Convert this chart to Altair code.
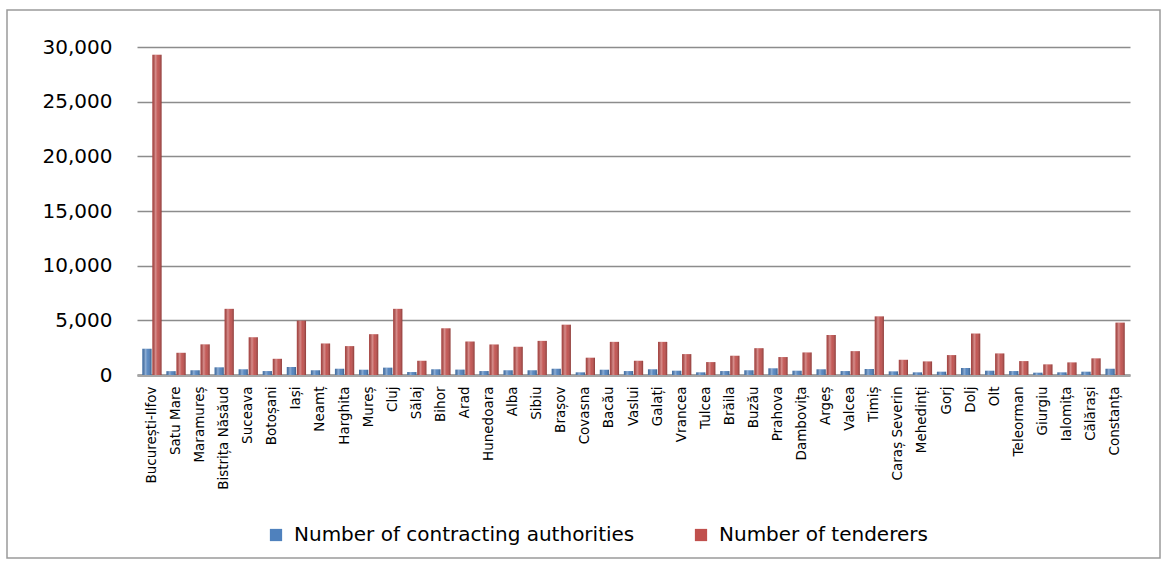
import altair as alt
import pandas as pd

counties = [
    "București-Ilfov", "Satu Mare", "Maramureș", "Bistrița Năsăud", "Suceava",
    "Botoșani", "Iași", "Neamț", "Harghita", "Mureș", "Cluj", "Sălaj", "Bihor",
    "Arad", "Hunedoara", "Alba", "Sibiu", "Brașov", "Covasna", "Bacău", "Vaslui",
    "Galați", "Vrancea", "Tulcea", "Brăila", "Buzău", "Prahova", "Dambovița",
    "Argeș", "Valcea", "Timiș", "Caraș Severin", "Mehedinți", "Gorj", "Dolj",
    "Olt", "Teleorman", "Giurgiu", "Ialomița", "Călărași", "Constanța",
]

authorities = [
    2400, 350, 430, 700, 520, 360, 730, 430, 570, 480, 670, 270, 520, 490, 360,
    430, 430, 570, 240, 480, 360, 520, 390, 240, 360, 430, 610, 390, 520, 360,
    550, 330, 240, 300, 640, 390, 360, 210, 240, 300, 570,
]

tenderers = [
    29300, 2030, 2800, 6050, 3450, 1480, 4970, 2880, 2640, 3730, 6050, 1300, 4270,
    3060, 2790, 2580, 3120, 4600, 1580, 3030, 1300, 3030, 1910, 1180, 1760, 2450,
    1640, 2060, 3660, 2180, 5360, 1390, 1240, 1820, 3790, 1970, 1270, 970, 1150,
    1520, 4790,
]

series_names = ["Number of contracting authorities", "Number of tenderers"]
series_colors = ["#4F81BD", "#C0504D"]
y_ticks = [0, 5000, 10000, 15000, 20000, 25000, 30000]

rows = []
for c, a, t in zip(counties, authorities, tenderers):
    rows.append({"county": c, "series": series_names[0], "value": a})
    rows.append({"county": c, "series": series_names[1], "value": t})
df = pd.DataFrame(rows)

FONT = "DejaVu Sans"

x_enc = alt.X(
    "county:N",
    sort=counties,
    scale=alt.Scale(paddingInner=0.2, paddingOuter=0.22),
    axis=alt.Axis(
        title=None, labelAngle=-90, labelFontSize=13.5, labelFont=FONT,
        labelColor="black", labelPadding=11, ticks=False, labelLimit=300,
        domainColor="#a6a6a6", domainWidth=3,
    ),
)
y_enc = alt.Y(
    "value:Q",
    scale=alt.Scale(domain=[0, 30000], nice=False),
    axis=alt.Axis(
        title=None, values=y_ticks, format=",.0f", labelFontSize=20, labelFont=FONT,
        labelColor="black", ticks=False, labelPadding=25, domain=False,
        gridColor="#8c8c8c", gridWidth=1.5,
    ),
)
xoff = alt.XOffset("series:N", sort=series_names,
                   scale=alt.Scale(domain=series_names, paddingInner=0.08))

bars = alt.Chart(df).mark_bar().encode(
    x=x_enc,
    y=y_enc,
    xOffset=xoff,
    color=alt.Color(
        "series:N",
        scale=alt.Scale(domain=series_names, range=series_colors),
        legend=alt.Legend(
            title=None, orient="none", legendX=129, legendY=478,
            direction="horizontal", symbolType="square", symbolSize=150,
            symbolStrokeWidth=0, labelFontSize=20, labelFont=FONT,
            labelColor="black", columnPadding=56, labelLimit=600, labelOffset=8,
        ),
    ),
)

shade = alt.Chart(df).mark_bar(
    fill={
        "gradient": "linear", "x1": 0, "y1": 0, "x2": 1, "y2": 0,
        "stops": [
            {"offset": 0, "color": "rgba(0,0,0,0.12)"},
            {"offset": 0.35, "color": "rgba(255,255,255,0.35)"},
            {"offset": 0.6, "color": "rgba(255,255,255,0.05)"},
            {"offset": 1, "color": "rgba(0,0,0,0.28)"},
        ],
    }
).encode(x=alt.X("county:N", sort=counties), y="value:Q", xOffset=xoff)

frame = alt.Chart(pd.DataFrame({"k": [0]})).mark_rect(
    filled=False, stroke="#9a9a9a", strokeWidth=1.5
).encode(
    x=alt.value(-130), x2=alt.value(1023), y=alt.value(-37), y2=alt.value(511)
)

chart = alt.layer(bars, shade, frame).properties(
    width=993, height=328,
    autosize=alt.AutoSizeParams(type="none"),
    padding={"left": 137, "top": 47, "right": 39, "bottom": 188},
    background="white",
).configure_view(stroke=None)

chart.save("out.html", embed_options={"renderer": "svg", "actions": False})
